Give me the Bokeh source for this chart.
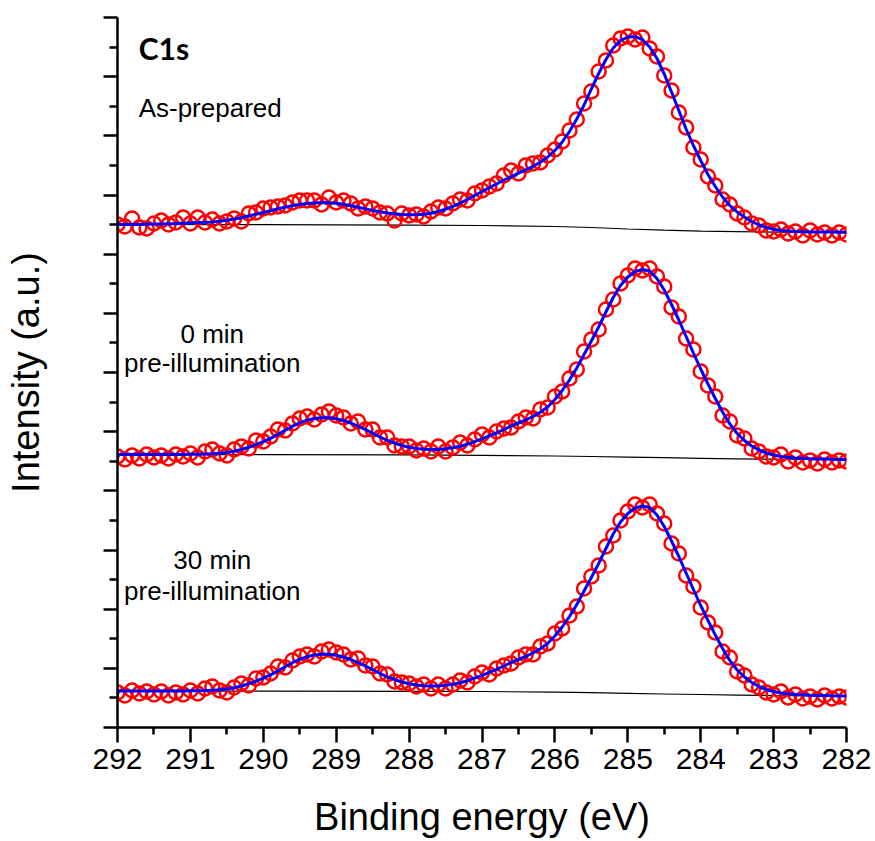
from bokeh.plotting import figure
from bokeh.models import Range1d, FixedTicker, Label
from bokeh.embed import file_html
from bokeh.resources import INLINE

# Binding energy grid (eV), 0.1 eV steps from 292.0 down to 282.0
energy = [round(292.0 - 0.1 * i, 1) for i in range(101)]

# --- As-prepared ---
data_asprep = [503, 501, 509, 500, 499, 504, 507, 503, 505, 510,
               504, 510, 505, 508, 504, 506, 509, 506, 514, 515,
               519, 520, 521, 522, 525, 527, 527, 527, 523, 530,
               525, 527, 524, 519, 521, 519, 515, 514, 507, 514,
               512, 513, 511, 516, 520, 519, 524, 528, 527, 534,
               537, 541, 544, 552, 557, 554, 562, 564, 565, 572,
               578, 586, 597, 608, 624, 636, 656, 667, 682, 689,
               691, 688, 690, 679, 671, 652, 637, 615, 600, 580,
               568, 551, 542, 528, 523, 514, 510, 504, 502, 497,
               496, 498, 494, 496, 492, 497, 493, 495, 492, 495,
               493]
fit_asprep = [503.0, 503.0, 503.0, 503.1, 503.2, 503.4, 503.6, 503.8, 504.0, 504.3,
              504.6, 504.9, 505.2, 505.6, 506.2, 507.2, 508.4, 509.8, 511.5, 513.2,
              515.0, 516.8, 518.7, 520.4, 521.9, 523.1, 524.0, 524.6, 524.9, 524.8,
              524.2, 523.2, 521.8, 520.2, 518.6, 517.1, 515.8, 514.6, 513.7, 513.0,
              512.7, 512.8, 513.2, 514.2, 516.0, 518.3, 521.0, 524.3, 528.0, 532.0,
              536.0, 539.8, 543.5, 547.5, 550.7, 554.3, 557.7, 561.2, 565.3, 570.5,
              577.0, 585.5, 596.0, 608.5, 622.5, 638.5, 654.0, 668.0, 679.5, 687.0,
              690.5, 690.8, 688.0, 680.5, 669.0, 653.5, 635.5, 617.0, 598.5, 582.0,
              567.0, 553.0, 541.0, 530.5, 522.0, 515.5, 510.5, 506.0, 502.5, 500.0,
              498.2, 497.0, 496.4, 496.0, 495.8, 495.6, 495.5, 495.4, 495.4, 495.3,
              495.3]

# --- 0 min pre-illumination ---
data_0min = [271, 268, 272, 269, 273, 270, 272, 269, 273, 271,
             274, 270, 276, 278, 274, 272, 278, 281, 279, 287,
             286, 291, 298, 297, 304, 309, 311, 308, 313, 316,
             312, 310, 304, 306, 298, 298, 290, 290, 282, 281,
             281, 277, 279, 276, 281, 276, 280, 285, 282, 288,
             293, 290, 296, 299, 300, 306, 310, 309, 318, 320,
             331, 336, 349, 358, 376, 388, 398, 418, 428, 444,
             452, 459, 457, 459, 451, 441, 420, 411, 389, 378,
             356, 342, 331, 312, 306, 292, 289, 279, 276, 271,
             270, 273, 266, 270, 265, 267, 264, 268, 265, 267,
             266]
fit_0min = [273.0, 273.0, 273.0, 273.0, 273.0, 273.0, 273.0, 273.0, 273.0, 273.1,
            273.2, 273.3, 273.5, 273.8, 274.3, 275.0, 276.3, 278.0, 280.2, 282.8,
            285.8, 289.2, 293.0, 297.3, 301.3, 304.7, 307.3, 309.0, 309.8, 309.7,
            308.7, 307.0, 304.5, 301.3, 298.0, 294.3, 290.5, 287.2, 284.5, 282.0,
            280.2, 279.0, 278.3, 278.0, 278.1, 278.7, 279.7, 281.3, 283.3, 285.8,
            288.6, 291.6, 294.7, 298.0, 301.5, 304.5, 307.5, 311.0, 315.3, 320.5,
            328.0, 337.0, 347.5, 359.5, 373.0, 386.5, 400.5, 415.5, 430.0, 442.0,
            450.5, 456.0, 458.0, 456.5, 449.0, 437.5, 423.0, 407.5, 391.0, 374.5,
            358.5, 343.5, 329.0, 315.5, 303.5, 294.0, 287.0, 281.5, 277.5, 274.5,
            272.5, 271.0, 270.2, 269.6, 269.2, 268.8, 268.6, 268.4, 268.2, 268.1,
            268.0]

# --- 30 min pre-illumination ---
data_30min = [35, 32, 37, 34, 36, 33, 36, 32, 35, 33,
              37, 34, 39, 41, 37, 35, 40, 44, 42, 49,
              50, 54, 61, 60, 67, 71, 73, 71, 76, 78,
              75, 73, 68, 69, 62, 61, 54, 53, 46, 45,
              44, 41, 43, 39, 43, 39, 43, 47, 45, 51,
              55, 53, 59, 62, 64, 70, 73, 73, 81, 84,
              94, 99, 112, 121, 139, 151, 162, 181, 192, 207,
              216, 223, 220, 223, 214, 204, 184, 174, 152, 141,
              120, 105, 95, 76, 70, 56, 52, 43, 40, 35,
              33, 36, 30, 33, 29, 31, 28, 32, 29, 31,
              30]
fit_30min = [36.5, 36.5, 36.5, 36.5, 36.5, 36.5, 36.5, 36.5, 36.5, 36.6,
             36.7, 36.8, 37.0, 37.3, 37.8, 38.5, 39.8, 41.5, 43.7, 46.3,
             49.3, 52.7, 56.5, 60.8, 64.8, 68.2, 70.8, 72.5, 73.3, 73.2,
             72.2, 70.5, 68.0, 64.8, 61.5, 57.8, 54.0, 50.7, 48.0, 45.5,
             43.7, 42.5, 41.8, 41.5, 41.6, 42.2, 43.2, 44.8, 46.8, 49.3,
             52.1, 55.1, 58.2, 61.5, 65.0, 68.0, 71.0, 74.5, 78.8, 84.0,
             91.5, 100.5, 111.0, 123.0, 136.5, 150.0, 164.0, 179.0, 193.5, 205.5,
             214.0, 219.5, 221.5, 220.0, 212.5, 201.0, 186.5, 171.0, 154.5, 138.0,
             122.0, 107.0, 92.5, 79.0, 67.0, 57.5, 50.5, 45.0, 41.0, 38.0,
             36.0, 34.5, 33.7, 33.1, 32.7, 32.3, 32.1, 31.9, 31.7, 31.6,
             31.5]

# Shirley-type backgrounds
base_energy = [292, 290, 288, 287, 286, 285.5, 285, 284.5, 284, 283.5, 283, 282]
base_asprep = [503.0, 502.8, 502.4, 502.0, 501.0, 500.0, 498.5, 497.3, 496.4, 495.8, 495.4, 495.3]
base_0min = [273.0, 272.9, 272.6, 272.2, 271.5, 271.0, 270.4, 269.8, 269.2, 268.7, 268.3, 268.0]
base_30min = [36.5, 36.4, 36.2, 36.0, 35.3, 34.8, 34.2, 33.5, 33.0, 32.4, 31.9, 31.5]

x_ticks = [282, 283, 284, 285, 286, 287, 288, 289, 290, 291, 292]
x_minor = [282.5, 283.5, 284.5, 285.5, 286.5, 287.5, 288.5, 289.5, 290.5, 291.5]

FONT = "Liberation Sans"

p = figure(width=875, height=841, x_range=Range1d(292, 282), y_range=Range1d(0, 710),
           output_backend="svg", toolbar_location=None,
           min_border_left=117, min_border_right=29, min_border_top=17, min_border_bottom=114)
p.outline_line_color = None
p.xgrid.visible = False
p.ygrid.visible = False
p.background_fill_color = "white"
p.border_fill_color = "white"

# x axis
xa = p.xaxis[0]
xa.ticker = FixedTicker(ticks=x_ticks, minor_ticks=x_minor)
xa.axis_line_width = 2.5
xa.axis_line_color = "black"
xa.major_tick_line_width = 2.5
xa.minor_tick_line_width = 2.5
xa.major_tick_line_color = "black"
xa.minor_tick_line_color = "black"
xa.major_tick_in = 0
xa.major_tick_out = 15
xa.minor_tick_in = 0
xa.minor_tick_out = 7
xa.major_label_text_font = FONT
xa.major_label_text_font_size = "30px"
xa.major_label_text_color = "black"
xa.major_label_standoff = 6
xa.axis_label = "Binding energy (eV)"
xa.axis_label_text_font = FONT
xa.axis_label_text_font_style = "normal"
xa.axis_label_text_font_size = "38px"
xa.axis_label_text_color = "black"
xa.axis_label_standoff = 24

# y axis (no tick labels)
ya = p.yaxis[0]
y_major = [i * 710 / 12 for i in range(13)]
y_minor = [(i + 0.5) * 710 / 12 for i in range(12)]
ya.ticker = FixedTicker(ticks=y_major, minor_ticks=y_minor)
ya.major_label_overrides = {t: "" for t in y_major}
ya.major_label_standoff = 0
ya.axis_line_width = 2.5
ya.axis_line_color = "black"
ya.major_tick_line_width = 2.5
ya.minor_tick_line_width = 2.5
ya.major_tick_line_color = "black"
ya.minor_tick_line_color = "black"
ya.major_tick_in = 0
ya.major_tick_out = 14
ya.minor_tick_in = 0
ya.minor_tick_out = 8
ya.axis_label = "Intensity (a.u.)"
ya.axis_label_text_font = FONT
ya.axis_label_text_font_style = "normal"
ya.axis_label_text_font_size = "38px"
ya.axis_label_text_color = "black"
ya.axis_label_standoff = 57

for base, data, fit in [(base_asprep, data_asprep, fit_asprep),
                        (base_0min, data_0min, fit_0min),
                        (base_30min, data_30min, fit_30min)]:
    p.line(base_energy, base, line_color="black", line_width=1.2)
    p.scatter(energy, data, marker="circle", size=14, fill_color=None,
              line_color="#ff0000", line_width=2.5)
    p.line(energy, fit, line_color="#0000ff", line_width=3)

labels = [
    dict(x=291.71, y=680, text="C1s", font="Lato", style="bold", size="30px", align="left"),
    dict(x=291.71, y=620, text="As-prepared", font=FONT, style="normal", size="26px", align="left"),
    dict(x=290.70, y=394, text="0 min", font=FONT, style="normal", size="26px", align="center"),
    dict(x=290.70, y=365, text="pre-illumination", font=FONT, style="normal", size="26px", align="center"),
    dict(x=290.70, y=168, text="30 min", font=FONT, style="normal", size="26px", align="center"),
    dict(x=290.70, y=137, text="pre-illumination", font=FONT, style="normal", size="26px", align="center"),
]
for lb in labels:
    p.add_layout(Label(x=lb["x"], y=lb["y"], text=lb["text"], text_font=lb["font"],
                       text_font_style=lb["style"], text_font_size=lb["size"],
                       text_align=lb["align"], text_baseline="alphabetic",
                       text_color="black"))

open("out.html", "w").write(file_html(p, INLINE))
